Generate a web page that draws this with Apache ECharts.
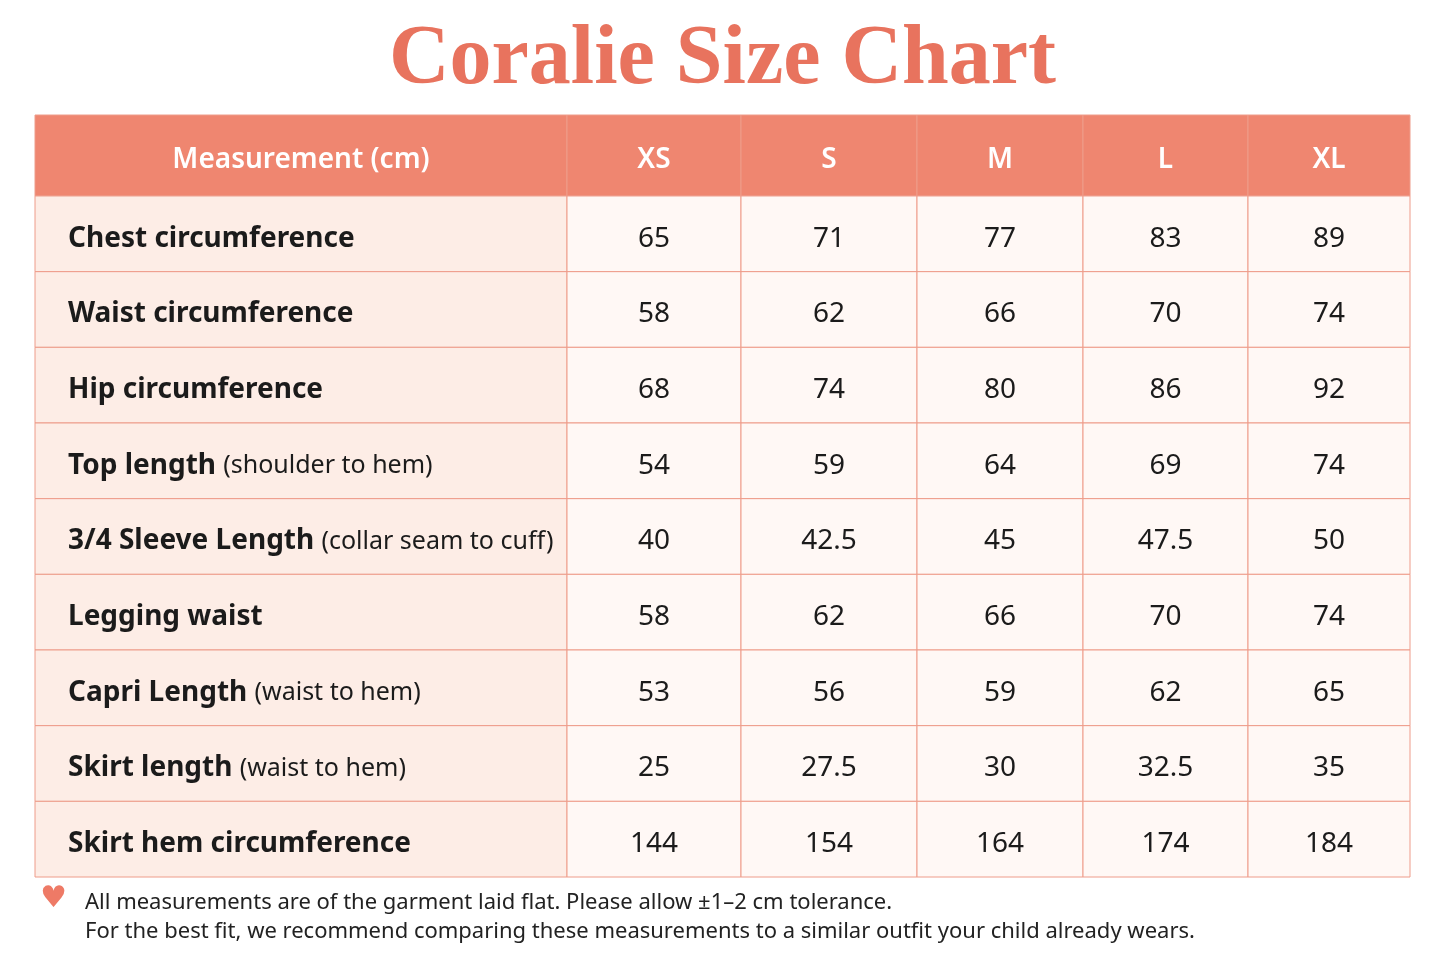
<!DOCTYPE html>
<html><head><meta charset="utf-8">
<script src="https://cdn.jsdelivr.net/npm/echarts@6/dist/echarts.min.js"></script>
<style>html,body{margin:0;padding:0;background:#fff}#c{width:1445px;height:963px}</style>
</head><body><div id="c"></div>
<script>
const sizes = ['XS','S','M','L','XL'];
const headerLabel = 'Measurement (cm)';
const measurements = [
  ['Chest circumference',''],
  ['Waist circumference',''],
  ['Hip circumference',''],
  ['Top length','(shoulder to hem)'],
  ['3/4 Sleeve Length','(collar seam to cuff)'],
  ['Legging waist',''],
  ['Capri Length','(waist to hem)'],
  ['Skirt length','(waist to hem)'],
  ['Skirt hem circumference','']
];
const XS = ['65','58','68','54','40','58','53','25','144'];
const S  = ['71','62','74','59','42.5','62','56','27.5','154'];
const M  = ['77','66','80','64','45','66','59','30','164'];
const L  = ['83','70','86','69','47.5','70','62','32.5','174'];
const XL = ['89','74','92','74','50','74','65','35','184'];
const sizeValues = [XS,S,M,L,XL];
const noteLines = ['All measurements are of the garment laid flat. Please allow ±1–2 cm tolerance.',
  'For the best fit, we recommend comparing these measurements to a similar outfit your child already wears.'];

const colEdges = [0,532,706,882,1048,1213,1375];
const rowEdges = [0,81];
for (let i=1;i<=9;i++) rowEdges.push(81+i*75.67);

const cells = [];
cells.push([0,0,headerLabel]);
sizes.forEach((s,i)=>cells.push([i+1,0,s]));
measurements.forEach((m,r)=>{
  cells.push([0,r+1, m[1] ? '{b|'+m[0]+'} {n|'+m[1]+'}' : '{b|'+m[0]+'}']);
  sizeValues.forEach((arr,c)=>cells.push([c+1,r+1,arr[r]]));
});

function renderItem(params, api){
  const c = api.value(0), r = api.value(1);
  const txt = cells[params.dataIndex][2];
  const p0 = api.coord([colEdges[c], rowEdges[r]]);
  const p1 = api.coord([colEdges[c+1], rowEdges[r+1]]);
  const x=p0[0], y=p0[1], w=p1[0]-p0[0], h=p1[1]-p0[1];
  const header = r===0;
  const fill = header ? '#EF8670' : (c===0 ? '#FDEDE6' : '#FFF8F5');
  return {type:'group', children:[
    {type:'rect', shape:{x,y,width:w,height:h}, style:{fill, stroke:'#EE9C8A', lineWidth:1}},
    {type:'text', x: (c===0 && !header) ? x+33 : x+w/2, y: y+h/2+(header?5:5),
      style:{text: txt, align: (c===0&&!header)?'left':'center', verticalAlign:'middle',
        fill: header?'#fff':'#1b1b1b', fontFamily:'Noto Sans', fontSize:28,
        fontWeight: header?'600':'normal',
        rich:{b:{fontFamily:'Noto Sans',fontSize:28,fontWeight:'bold',fill:'#1b1b1b'},
              n:{fontFamily:'Noto Sans',fontSize:25,fill:'#1b1b1b'}}}}
  ]};
}

const chart = echarts.init(document.getElementById('c'));
chart.setOption({
  animation:false,
  backgroundColor:'#fff',
  title:{text:'Coralie Size Chart', left:'center', top:14,
    textStyle:{fontFamily:'Liberation Serif', fontWeight:'bold', fontSize:84, color:'#E8735E'}},
  grid:{left:35, right:35, top:115, bottom:86},
  xAxis:{type:'value', min:0, max:1375, show:false},
  yAxis:{type:'value', min:0, max:rowEdges[10], inverse:true, show:false},
  series:[{type:'custom', renderItem, data: cells.map(d=>[d[0],d[1]])}],
  graphic:[
    {type:'text', left:40, top:884, style:{text:'♥', fontSize:30, fill:'#EE7A66', fontFamily:'DejaVu Sans'}},
    {type:'text', left:85, top:888, style:{text:noteLines.join('\n'), lineHeight:29, fontSize:22, fill:'#222', fontFamily:'Noto Sans'}}
  ]
});
</script></body></html>
